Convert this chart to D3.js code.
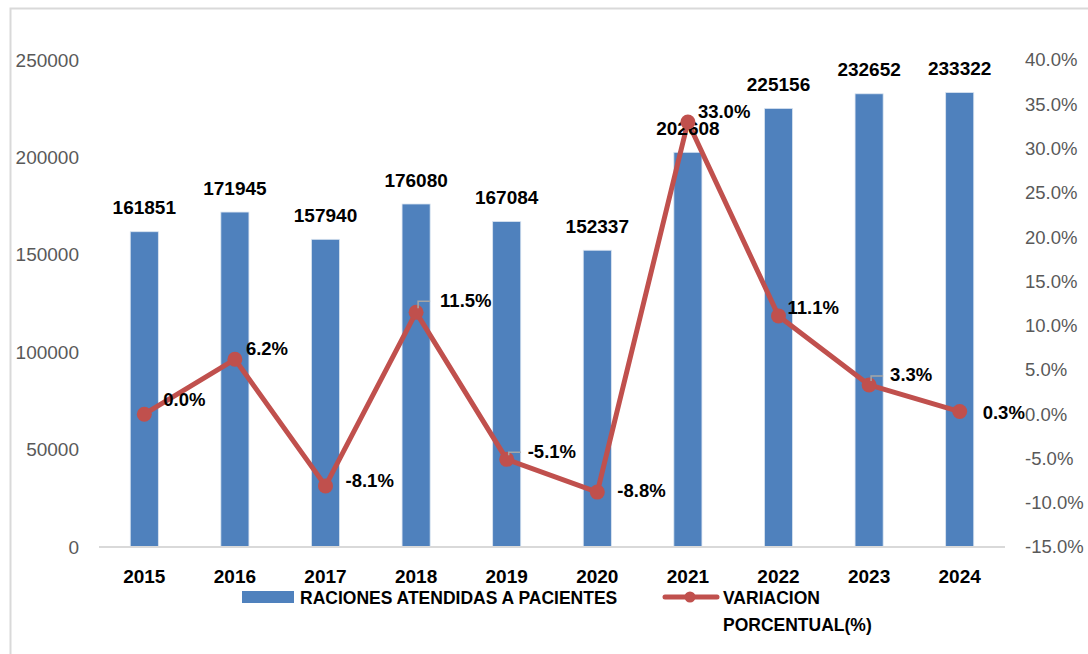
<!DOCTYPE html>
<html>
<head>
<meta charset="utf-8">
<script src="https://cdn.jsdelivr.net/npm/d3@7"></script>
<style>
  html, body { margin: 0; padding: 0; background: #fff; }
  text { font-family: "Liberation Sans", Arial, sans-serif; }
</style>
</head>
<body>
<div id="chart"></div>
<script>
// datos
const years = ["2015", "2016", "2017", "2018", "2019", "2020", "2021", "2022", "2023", "2024"];
const raciones = [161851, 171945, 157940, 176080, 167084, 152337, 202608, 225156, 232652, 233322];
const variacion = [0.000, 0.062, -0.081, 0.115, -0.051, -0.088, 0.330, 0.111, 0.033, 0.003];
const leftTicks = [0, 50000, 100000, 150000, 200000, 250000];
const rightTicks = [-0.15, -0.10, -0.05, 0, 0.05, 0.10, 0.15, 0.20, 0.25, 0.30, 0.35, 0.40];
const seriesNames = ["RACIONES ATENDIDAS A PACIENTES", "VARIACION", "PORCENTUAL(%)"];

const width = 1088;
const height = 654;
const margin = { top: 60, right: 83, bottom: 107, left: 99 };

// formato con guion normal
const pct = d => d3.format(".1%")(d).replace("\u2212", "-");

const svg = d3.select("#chart")
  .append("svg")
  .attr("width", width)
  .attr("height", height);

// borde del grafico
svg.append("rect")
  .attr("x", 10.5).attr("y", 8.5)
  .attr("width", 1200).attr("height", 800)
  .attr("fill", "none")
  .attr("stroke", "#d9d9d9")
  .attr("stroke-width", 2);

const x = d3.scaleBand()
  .domain(years)
  .range([margin.left, width - margin.right])
  .paddingInner(0.69)
  .paddingOuter(0.345);

const y = d3.scaleLinear()
  .domain([0, 250000])
  .range([height - margin.bottom, margin.top]);

const yR = d3.scaleLinear()
  .domain([-0.15, 0.40])
  .range([height - margin.bottom, margin.top]);

// eje izquierdo
const gL = svg.append("g")
  .attr("transform", `translate(${margin.left - 20},0)`)
  .call(d3.axisLeft(y).tickValues(leftTicks).tickSize(0).tickPadding(0).tickFormat(d3.format("d")));
gL.select(".domain").remove();
gL.selectAll("text")
  .style("font-size", "19px")
  .style("fill", "#595959");

// eje derecho
const gR = svg.append("g")
  .attr("transform", `translate(${width - 63},0)`)
  .call(d3.axisRight(yR).tickValues(rightTicks).tickSize(0).tickPadding(0).tickFormat(pct));
gR.select(".domain").remove();
gR.selectAll("text")
  .style("font-size", "18.5px")
  .style("fill", "#595959");

// barras
svg.append("g")
  .selectAll("rect")
  .data(raciones)
  .join("rect")
  .attr("x", (d, i) => x(years[i]))
  .attr("y", d => y(d))
  .attr("width", x.bandwidth())
  .attr("height", d => y(0) - y(d))
  .attr("fill", "#4f81bd")
  .attr("stroke", "#dbe5f1")
  .attr("stroke-width", 0.8);

// linea base
svg.append("line")
  .attr("x1", margin.left).attr("x2", width - margin.right)
  .attr("y1", y(0)).attr("y2", y(0))
  .attr("stroke", "#d9d9d9")
  .attr("stroke-width", 2);

// etiquetas de anios
svg.append("g")
  .selectAll("text")
  .data(years)
  .join("text")
  .attr("x", d => x(d) + x.bandwidth() / 2)
  .attr("y", y(0) + 29)
  .attr("dy", "0.35em")
  .attr("text-anchor", "middle")
  .style("font-size", "19px")
  .style("font-weight", "bold")
  .text(d => d);

// linea de variacion
const cx = i => x(years[i]) + x.bandwidth() / 2;
const line = d3.line()
  .x((d, i) => cx(i))
  .y(d => yR(d));

svg.append("path")
  .datum(variacion)
  .attr("d", line)
  .attr("fill", "none")
  .attr("stroke", "#c0504d")
  .attr("stroke-width", 5)
  .attr("stroke-linejoin", "round");

// etiquetas de barras
svg.append("g")
  .selectAll("text")
  .data(raciones)
  .join("text")
  .attr("x", (d, i) => cx(i))
  .attr("y", d => y(d) - 24)
  .attr("dy", "0.35em")
  .attr("text-anchor", "middle")
  .style("font-size", "19px")
  .style("font-weight", "bold")
  .text(d => d);

svg.append("g")
  .selectAll("circle")
  .data(variacion)
  .join("circle")
  .attr("cx", (d, i) => cx(i))
  .attr("cy", d => yR(d))
  .attr("r", 7.5)
  .attr("fill", "#c0504d");

// posicion manual de etiquetas (como en Excel)
const pctOffset = [[19, -15], [11, -11], [20, -5], [24, -12], [21, -8], [20, -2], [10, -10], [9, -8], [21, -10], [23, 1]];
const hasLeader = [false, false, false, true, true, false, false, false, true, false];

svg.append("g")
  .selectAll("path")
  .data(variacion.map((d, i) => ({ d, i })).filter(o => hasLeader[o.i]))
  .join("path")
  .attr("d", o => {
    const px = cx(o.i) + 2, py = yR(o.d);
    const ty = py + pctOffset[o.i][1] + 1;
    return `M${px},${py - 4}V${ty}H${px + 12}`;
  })
  .attr("fill", "none")
  .attr("stroke", "#a6a6a6")
  .attr("stroke-width", 1.5);

svg.append("g")
  .selectAll("text")
  .data(variacion)
  .join("text")
  .attr("x", (d, i) => cx(i) + pctOffset[i][0])
  .attr("y", (d, i) => yR(d) + pctOffset[i][1])
  .attr("dy", "0.35em")
  .style("font-size", "18.5px")
  .style("font-weight", "bold")
  .text(d => pct(d));

// leyenda
const leg = svg.append("g");
leg.append("rect")
  .attr("x", 242).attr("y", 591)
  .attr("width", 52).attr("height", 12)
  .attr("fill", "#4f81bd");
leg.append("text")
  .attr("x", 300).attr("y", 598)
  .attr("dy", "0.35em")
  .style("font-size", "17.5px")
  .style("font-weight", "bold")
  .text(seriesNames[0]);

leg.append("line")
  .attr("x1", 665).attr("x2", 717)
  .attr("y1", 597).attr("y2", 597)
  .attr("stroke", "#c0504d")
  .attr("stroke-width", 5)
  .attr("stroke-linecap", "round");
leg.append("circle")
  .attr("cx", 690).attr("cy", 597).attr("r", 5.5)
  .attr("fill", "#c0504d");
leg.append("text")
  .attr("x", 723).attr("y", 598)
  .attr("dy", "0.35em")
  .style("font-size", "17.5px")
  .style("font-weight", "bold")
  .text(seriesNames[1]);
leg.append("text")
  .attr("x", 723).attr("y", 625)
  .attr("dy", "0.35em")
  .style("font-size", "17.5px")
  .style("font-weight", "bold")
  .text(seriesNames[2]);
</script>
</body>
</html>
